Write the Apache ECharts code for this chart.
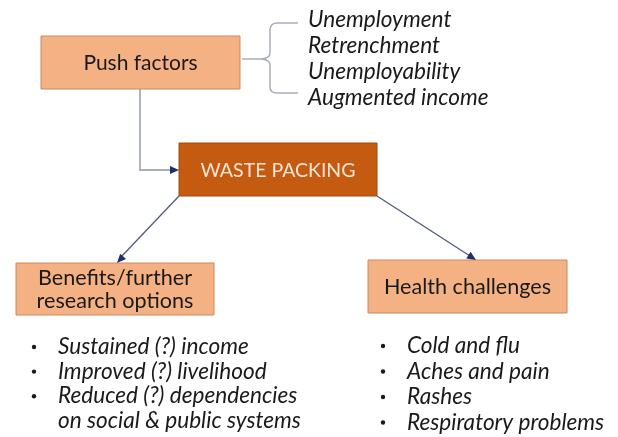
<!DOCTYPE html>
<html><head><meta charset="utf-8">
<script src="https://cdn.jsdelivr.net/npm/echarts@6/dist/echarts.min.js"></script>
<style>html,body{margin:0;padding:0;background:#fff}#c{width:618px;height:437px}</style>
</head><body><div id="c"></div>
<script>
// Diagram content
const boxTitles = ['Push factors', 'WASTE PACKING', 'Benefits/further\nresearch options', 'Health challenges'];
const pushFactors = ['Unemployment', 'Retrenchment', 'Unemployability', 'Augmented income'];
const benefitItems = ['Sustained (?) income', 'Improved (?) livelihood', 'Reduced (?) dependencies\non social & public systems'];
const healthItems = ['Cold and flu', 'Aches and pain', 'Rashes', 'Respiratory problems'];

const FONT = 'Lato, "Open Sans", sans-serif';
const chart = echarts.init(document.getElementById('c'), null, {renderer: 'canvas'});

// layout of boxes
const boxes = [
  {x: 41, y: 36, w: 199, h: 53, fill: '#F4B183', stroke: '#C98A5E', color: '#1a1a1a', size: 21},
  {x: 179, y: 143, w: 198, h: 53, fill: '#C55A11', stroke: '#A04A10', color: '#FBE5D6', size: 19.5},
  {x: 16, y: 263, w: 198, h: 52, fill: '#F4B183', stroke: '#C98A5E', color: '#1a1a1a', size: 21.6},
  {x: 368, y: 260, w: 199, h: 53, fill: '#F4B183', stroke: '#C98A5E', color: '#1a1a1a', size: 21.6}
];

const g = [];
boxes.forEach((b, i) => {
  g.push({type: 'rect', shape: {x: b.x, y: b.y, width: b.w, height: b.h},
    style: {fill: b.fill, stroke: b.stroke, lineWidth: 1}, z: 2});
  g.push({type: 'text', x: b.x + b.w / 2, y: b.y + b.h / 2 + 1, z: 3,
    style: {text: boxTitles[i], fill: b.color, font: b.size + 'px ' + FONT,
      align: 'center', verticalAlign: 'middle', lineHeight: 23}});
});

function arrowHead(x1, y1, x2, y2, color) {
  const a = Math.atan2(y2 - y1, x2 - x1), L = 9, W = 4;
  const bx = x2 - L * Math.cos(a), by = y2 - L * Math.sin(a);
  const px = -Math.sin(a) * W, py = Math.cos(a) * W;
  return {type: 'polygon', z: 4, shape: {points: [[x2, y2], [bx + px, by + py], [bx - px, by - py]]},
    style: {fill: color}};
}
// elbow connector
g.push({type: 'polyline', z: 1, shape: {points: [[140, 89], [140, 170], [172, 170]]},
  style: {stroke: '#A6ADBB', lineWidth: 1.8, fill: null}});
g.push(arrowHead(140, 170, 179, 170, '#1F2F6B'));
// diagonal arrows
g.push({type: 'line', z: 1, shape: {x1: 179, y1: 196, x2: 121, y2: 257}, style: {stroke: '#55607E', lineWidth: 1.4}});
g.push(arrowHead(179, 196, 117, 263, '#1F2F6B'));
g.push({type: 'line', z: 1, shape: {x1: 377, y1: 196, x2: 470, y2: 256}, style: {stroke: '#55607E', lineWidth: 1.4}});
g.push(arrowHead(377, 196, 476, 260, '#1F2F6B'));

// brace
const braceStyle = {stroke: '#A6ADBB', lineWidth: 1.5, fill: null};
g.push({type: 'polyline', z: 1, shape: {points: [[298, 23], [277, 23]]}, style: braceStyle});
g.push({type: 'bezierCurve', z: 1, shape: {x1: 277, y1: 23, x2: 270, y2: 29, cpx1: 271, cpy1: 23}, style: braceStyle});
g.push({type: 'polyline', z: 1, shape: {points: [[270, 29], [270, 53]]}, style: braceStyle});
g.push({type: 'bezierCurve', z: 1, shape: {x1: 270, y1: 53, x2: 262, y2: 59, cpx1: 270, cpy1: 58}, style: braceStyle});
g.push({type: 'polyline', z: 1, shape: {points: [[262, 59], [242, 59]]}, style: braceStyle});
g.push({type: 'bezierCurve', z: 1, shape: {x1: 262, y1: 59, x2: 270, y2: 65, cpx1: 270, cpy1: 60}, style: braceStyle});
g.push({type: 'polyline', z: 1, shape: {points: [[270, 65], [270, 87]]}, style: braceStyle});
g.push({type: 'bezierCurve', z: 1, shape: {x1: 270, y1: 87, x2: 277, y2: 93, cpx1: 270, cpy1: 93}, style: braceStyle});
g.push({type: 'polyline', z: 1, shape: {points: [[277, 93], [298, 93]]}, style: braceStyle});

const ITALIC = 'italic 22.6px ' + FONT;
// push factor list
pushFactors.forEach((t, i) => {
  g.push({type: 'text', x: 308, y: 20 + i * 26, z: 3,
    style: {text: t, fill: '#1a1a1a', font: ITALIC, verticalAlign: 'middle'}});
});

function bulletList(items, bx, tx, y0, step) {
  let row = 0;
  items.forEach(t => {
    const lines = t.split('\n');
    g.push({type: 'circle', z: 3, shape: {cx: bx, cy: y0 + row * step, r: 2.2}, style: {fill: '#1a1a1a'}});
    lines.forEach(l => {
      g.push({type: 'text', x: tx, y: y0 + row * step, z: 3,
        style: {text: l, fill: '#1a1a1a', font: ITALIC, verticalAlign: 'middle'}});
      row++;
    });
  });
}
bulletList(benefitItems, 34, 58, 347, 24.6);
bulletList(healthItems, 383, 407, 346, 25.5);

chart.setOption({animation: false, graphic: {elements: g}});
</script></body></html>
